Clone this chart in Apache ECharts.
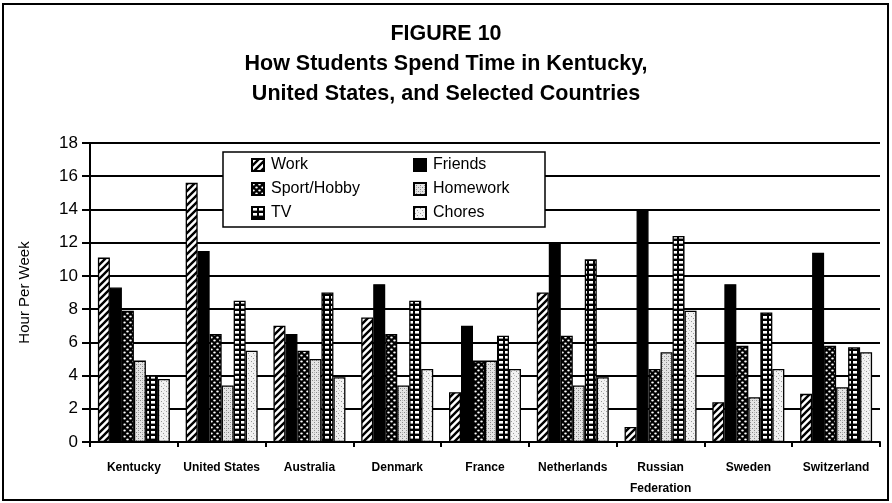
<!DOCTYPE html>
<html>
<head>
<meta charset="utf-8">
<script src="https://cdn.jsdelivr.net/npm/echarts@6/dist/echarts.min.js"></script>
<style>
html,body{margin:0;padding:0;background:#fff;}
#chart{width:892px;height:503px;}
</style>
</head>
<body>
<div id="chart"></div>
<script>
// ---- data ----
const categories = ['Kentucky','United States','Australia','Denmark','France','Netherlands','Russian\nFederation','Sweden','Switzerland'];
const seriesNames = ['Work','Friends','Sport/Hobby','Homework','TV','Chores'];
const work     = [11.1, 15.6, 7.0, 7.5, 3.0, 9.0, 0.9, 2.4, 2.9];
const friends  = [9.3, 11.5, 6.5, 9.5, 7.0, 12.0, 13.9, 9.5, 11.4];
const sport    = [7.9, 6.5, 5.5, 6.5, 4.9, 6.4, 4.4, 5.8, 5.8];
const homework = [4.9, 3.4, 5.0, 3.4, 4.9, 3.4, 5.4, 2.7, 3.3];
const tv       = [4.0, 8.5, 9.0, 8.5, 6.4, 11.0, 12.4, 7.8, 5.7];
const chores   = [3.8, 5.5, 3.9, 4.4, 4.4, 3.9, 7.9, 4.4, 5.4];
const yTicks   = [0, 2, 4, 6, 8, 10, 12, 14, 16, 18];

const FONT = '"Liberation Sans", Arial, sans-serif';

// ---- fill patterns ----
function tile(w, h, draw) {
  const c = document.createElement('canvas');
  c.width = w; c.height = h;
  const g = c.getContext('2d');
  draw(g, w, h);
  return { image: c, repeat: 'repeat' };
}
const patWork = tile(7, 7, (g, w, h) => {
  g.fillStyle = '#fff'; g.fillRect(0, 0, w, h);
  g.strokeStyle = '#000'; g.lineWidth = 2.4; g.lineCap = 'square';
  g.beginPath();
  g.moveTo(-1, h + 1); g.lineTo(w + 1, -1);
  g.moveTo(-2, 2); g.lineTo(2, -2);
  g.moveTo(w - 2, h + 2); g.lineTo(w + 2, h - 2);
  g.stroke();
});
const patFriends = '#000';
const patSport = tile(6, 6, (g, w, h) => {
  g.fillStyle = '#000'; g.fillRect(0, 0, w, h);
  g.fillStyle = '#fff';
  g.beginPath(); g.ellipse(1.5, 1.5, 1.3, 1.0, 0, 0, Math.PI * 2); g.fill();
  g.beginPath(); g.ellipse(4.5, 4.5, 1.3, 1.0, 0, 0, Math.PI * 2); g.fill();
});
const patHomework = tile(4, 4, (g, w, h) => {
  g.fillStyle = '#e4e4e4'; g.fillRect(0, 0, w, h);
  g.fillStyle = '#8a8a8a';
  g.fillRect(0, 0, 1, 1); g.fillRect(2, 2, 1, 1);
  g.fillStyle = '#b5b5b5';
  g.fillRect(2, 0, 1, 1);
});
const patTV = tile(6, 5, (g, w, h) => {
  g.fillStyle = '#000'; g.fillRect(0, 0, w, h);
  g.fillStyle = '#fff'; g.fillRect(1, 1, 4, 2.6);
});
const patChores = tile(5, 5, (g, w, h) => {
  g.fillStyle = '#f2f2f2'; g.fillRect(0, 0, w, h);
  g.fillStyle = '#9a9a9a';
  g.fillRect(1, 1, 1, 1); g.fillRect(3, 3, 1, 1);
  g.fillStyle = '#c8c8c8';
  g.fillRect(4, 0, 1, 1);
});

const values = [work, friends, sport, homework, tv, chores];
const fills = [patWork, patFriends, patSport, patHomework, patTV, patChores];

const chart = echarts.init(document.getElementById('chart'), null, { renderer: 'canvas' });

const series = seriesNames.map((n, i) => ({
  name: n,
  type: 'bar',
  data: values[i],
  barGap: '0%',
  barCategoryGap: '18%',
  itemStyle: { color: fills[i], borderColor: '#000', borderWidth: 1.3 },
  emphasis: { disabled: true },
  animation: false
}));

const legendCommon = {
  orient: 'vertical',
  top: 152,
  itemWidth: 12,
  itemHeight: 12,
  itemGap: 8,
  icon: 'rect',
  z: 10,
  selectedMode: false,
  textStyle: { fontFamily: FONT, fontSize: 16, color: '#000', lineHeight: 16, padding: [0, 0, 0, 2] }
};

chart.setOption({
  backgroundColor: '#fff',
  animation: false,
  title: {
    text: 'FIGURE 10\nHow Students Spend Time in Kentucky,\nUnited States, and Selected Countries',
    left: 'center',
    top: 14,
    textStyle: { fontFamily: FONT, fontSize: 21.5, fontWeight: 'bold', color: '#000', lineHeight: 30, align: 'center' }
  },
  legend: [
    Object.assign({}, legendCommon, { left: 246, data: ['Work', 'Sport/Hobby', 'TV'] }),
    Object.assign({}, legendCommon, { left: 408, data: ['Friends', 'Homework', 'Chores'] })
  ],
  graphic: [
    { type: 'rect', z: 5, shape: { x: 223, y: 152, width: 322, height: 75 },
      style: { fill: '#fff', stroke: '#000', lineWidth: 1.5 } },
    { type: 'rect', z: 0, shape: { x: 3, y: 4, width: 885, height: 496 },
      style: { fill: 'none', stroke: '#000', lineWidth: 2 } }
  ],
  grid: { left: 90, right: 12, top: 143, bottom: 61 },
  xAxis: {
    type: 'category',
    data: categories,
    axisLine: { lineStyle: { color: '#000', width: 2 } },
    axisTick: { show: true, length: 5, lineStyle: { color: '#000', width: 2 } },
    axisLabel: { interval: 0, fontFamily: FONT, fontSize: 12, fontWeight: 'bold', color: '#000', margin: 15, lineHeight: 21 }
  },
  yAxis: {
    type: 'value',
    min: yTicks[0],
    max: yTicks[yTicks.length - 1],
    interval: 2,
    name: 'Hour Per Week',
    nameLocation: 'middle',
    nameGap: 58,
    nameTextStyle: { fontFamily: FONT, fontSize: 15, color: '#000' },
    axisLine: { show: true, lineStyle: { color: '#000', width: 2 } },
    axisTick: { show: true, length: 8, lineStyle: { color: '#000', width: 2 } },
    axisLabel: { fontFamily: FONT, fontSize: 17, color: '#000', margin: 12 },
    splitLine: { show: true, lineStyle: { color: '#000', width: 2 } }
  },
  series: series
});
</script>
</body>
</html>
